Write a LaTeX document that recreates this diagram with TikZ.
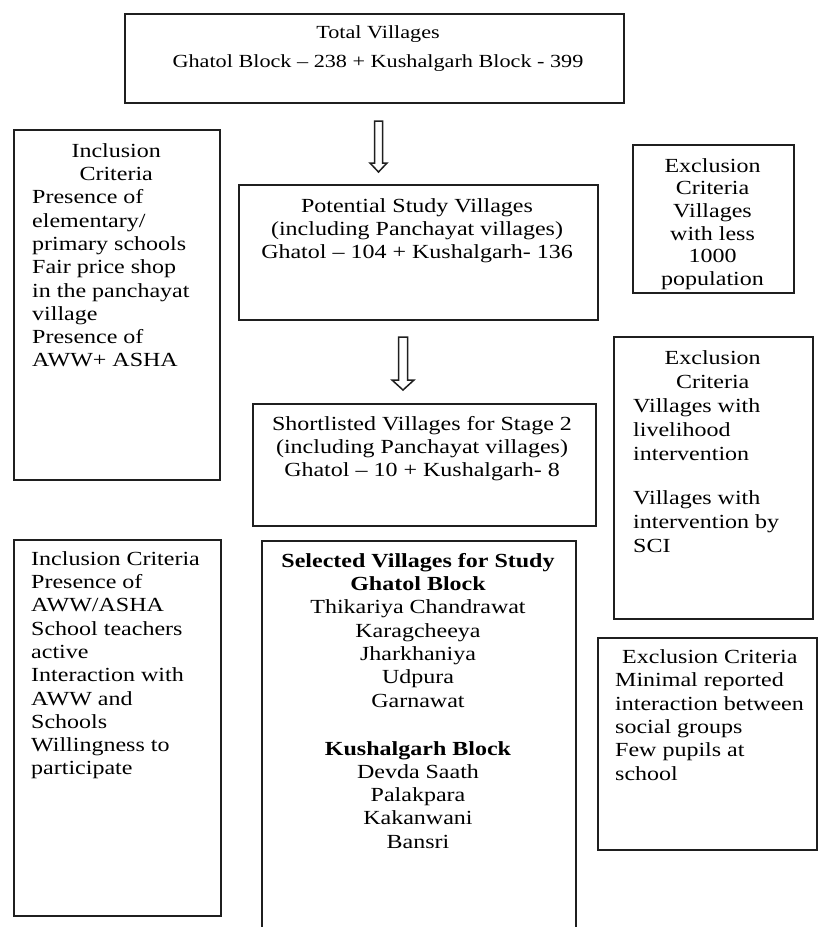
\documentclass[tikz,border=0pt]{standalone}
\usepackage{fontspec}
\setmainfont{Liberation Serif}[FakeStretch=1.2]
\usetikzlibrary{calc}
\newcommand\fst{\rule{0pt}{16pt}}
\newcommand\hollowarrow[5]{%
  \draw[arrowline] ($(#1)+(-#3,0)$) -- ($(#1)+(#3,0)$) -- ($(#2)+(#3,-#5)$) -- ($(#2)+(#4,-#5)$) -- (#2) -- ($(#2)+(-#4,-#5)$) -- ($(#2)+(-#3,-#5)$) -- cycle;}
\tikzset{
  box/.style={draw=black!88, line width=2pt, rectangle, inner sep=0pt, anchor=north west},
  txt/.style={inner sep=0pt, text=black, font=\fontsize{20}{23.3}\selectfont},
  ctxt/.style={txt, align=center, anchor=north},
  ltxt/.style={txt, align=left, anchor=north west},
  arrowline/.style={draw=black!88, line width=1.5pt, line join=miter, fill=white}
}
\begin{document}
\begin{tikzpicture}[x=1pt,y=-1pt]
\useasboundingbox (0,0) rectangle (818,927);
\clip (0,0) rectangle (818,927);
\fill[white] (0,0) rectangle (818,927);
% boxes
\node[box, minimum width=499, minimum height=89] (total) at (124,13) {};
\node[box, minimum width=206, minimum height=350] (incl1) at (13,129) {};
\node[box, minimum width=359, minimum height=135] (pot) at (238,184) {};
\node[box, minimum width=161, minimum height=148] (excl1) at (632,144) {};
\node[box, minimum width=199, minimum height=282] (excl2) at (613,336) {};
\node[box, minimum width=343, minimum height=122] (short) at (252,403) {};
\node[box, minimum width=207, minimum height=376] (incl2) at (13,539) {};
\node[box, minimum width=314, minimum height=400] (sel) at (261,540) {};
\node[box, minimum width=219, minimum height=212] (excl3) at (597,637) {};
% texts
\node[ctxt, font=\fontsize{18.5}{29}\selectfont] (totaltxt) at (378,22)
  {\fst Total Villages\\Ghatol Block – 238 + Kushalgarh Block - 399};
\node[ctxt] (pottxt) at (417,196)
  {\fst Potential Study Villages\\(including Panchayat villages)\\Ghatol – 104 + Kushalgarh- 136};
\node[ctxt] (shorttxt) at (422,414)
  {\fst Shortlisted Villages for Stage 2\\(including Panchayat villages)\\Ghatol – 10 + Kushalgarh- 8};
\node[ctxt, font=\fontsize{20}{22.6}\selectfont] (excl1txt) at (712.5,156)
  {\fst Exclusion\\Criteria\\Villages\\with less\\1000\\population};
\node[ctxt] (seltxt) at (418,551)
  {\fst\textbf{Selected Villages for Study}\\\textbf{Ghatol Block}\\Thikariya Chandrawat\\Karagcheeya\\Jharkhaniya\\Udpura\\Garnawat\\[24.7pt]\textbf{Kushalgarh Block}\\Devda Saath\\Palakpara\\Kakanwani\\Bansri};
\node[ltxt] (incl1txt) at (32,141)
  {\fst\makebox[168pt][c]{Inclusion}\\\makebox[168pt][c]{Criteria}\\Presence of\\elementary/\\primary schools\\Fair price shop\\in the panchayat\\village\\Presence of\\AWW+ ASHA};
\node[ltxt] (incl2txt) at (31,549)
  {\fst Inclusion Criteria\\Presence of\\AWW/ASHA\\School teachers\\active\\Interaction with\\AWW and\\Schools\\Willingness to\\participate};
\node[ltxt, font=\fontsize{20}{24}\selectfont] (excl2txt) at (633,348)
  {\fst\makebox[159pt][c]{Exclusion}\\\makebox[159pt][c]{Criteria}\\Villages with\\livelihood\\intervention\\[20pt]Villages with\\intervention by\\SCI};
\node[ltxt, font=\fontsize{20}{23.4}\selectfont] (excl3txt) at (615,647)
  {\fst\hspace*{7pt}Exclusion Criteria\\Minimal reported\\interaction between\\social groups\\Few pupils at\\school};
% arrows
\coordinate (a1t) at (378.5,121);
\coordinate (a1h) at (378.5,172);
\coordinate (a2t) at (403,337);
\coordinate (a2h) at (403,390);
\hollowarrow{a1t}{a1h}{4}{8.5}{9}
\hollowarrow{a2t}{a2h}{4.5}{11}{10}
\end{tikzpicture}
\end{document}
